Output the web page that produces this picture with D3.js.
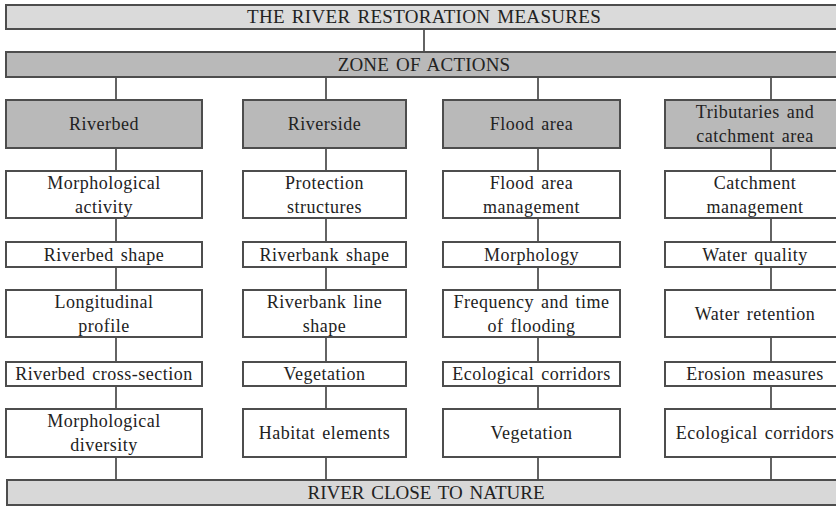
<!DOCTYPE html>
<html>
<head>
<meta charset="utf-8">
<script src="https://cdn.jsdelivr.net/npm/d3@7"></script>
<style>
  html, body { margin: 0; padding: 0; background: #fff; overflow: hidden; }
  svg { display: block; }
</style>
</head>
<body>
<div id="chart"></div>
<script>
// chart content
var title = "THE RIVER RESTORATION MEASURES";
var zoneLabel = "ZONE OF ACTIONS";
var footer = "RIVER CLOSE TO NATURE";
var zones = ["Riverbed", "Riverside", "Flood area", "Tributaries and\ncatchment area"];
var riverbedItems = ["Morphological\nactivity", "Riverbed shape", "Longitudinal\nprofile", "Riverbed cross-section", "Morphological\ndiversity"];
var riversideItems = ["Protection\nstructures", "Riverbank shape", "Riverbank line\nshape", "Vegetation", "Habitat elements"];
var floodItems = ["Flood area\nmanagement", "Morphology", "Frequency and time\nof flooding", "Ecological corridors", "Vegetation"];
var tributaryItems = ["Catchment\nmanagement", "Water quality", "Water retention", "Erosion measures", "Ecological corridors"];
var items = [riverbedItems, riversideItems, floodItems, tributaryItems];

(function () {
    var width = 836, height = 508;

    // layout
    var colLeft = [6, 243, 443, 665],
        colRight = [202, 406, 620, 845],
        colLink = [116, 326, 538, 771];
    var rowTop = [171, 242, 290, 362, 409],
        rowBottom = [218, 267, 337, 386, 457];
    var bars = {top: [5, 29], zone: [52, 77], bottom: [480, 505]},
        head = [100, 148];
    var lineH = 24;
    var font = "'Liberation Serif', 'Times New Roman', Times, 'DejaVu Serif', serif";

    var stroke = "#4d4d4d";

    var svg = d3.select("#chart").append("svg")
        .attr("width", width)
        .attr("height", height);

    var x = d3.scaleOrdinal().domain(d3.range(zones.length)).range(colLink);

    function box(x0, y0, x1, y1, fill) {
        svg.append("rect")
            .attr("x", x0).attr("y", y0)
            .attr("width", x1 - x0).attr("height", y1 - y0)
            .attr("fill", fill)
            .attr("stroke", stroke)
            .attr("stroke-width", 2);
    }

    function label(txt, cx, cy, size, spacing) {
        var lines = txt.split("\n");
        var t = svg.append("text")
            .attr("text-anchor", "middle")
            .attr("font-family", font)
            .attr("fill", "#222")
            .style("font-family", font)
            .style("font-size", size + "px")
            .style("letter-spacing", spacing + "px")
            .style("word-spacing", "2px");
        lines.forEach(function (l, i) {
            t.append("tspan")
                .attr("x", cx)
                .attr("y", cy + (i - (lines.length - 1) / 2) * lineH)
                .attr("dy", "0.34em")
                .text(l);
        });
    }

    function link(x0, y0, y1) {
        svg.append("line")
            .attr("x1", x0).attr("x2", x0)
            .attr("y1", y0).attr("y2", y1)
            .attr("stroke", "#3d3d3d")
            .attr("stroke-width", 1.6);
    }

    // connectors first, boxes drawn over them
    link(424, bars.top[1], bars.zone[0]);
    zones.forEach(function (z, i) {
        link(x(i), bars.zone[1], head[0]);
        link(x(i), head[1], rowTop[0]);
        for (var r = 0; r < rowTop.length - 1; r++) link(x(i), rowBottom[r], rowTop[r + 1]);
        link(x(i), rowBottom[rowBottom.length - 1], bars.bottom[0]);
    });

    // horizontal bars
    box(6, bars.top[0], 850, bars.top[1], "#dadada");
    label(title, 424, (bars.top[0] + bars.top[1]) / 2, 19, 0.3);
    box(6, bars.zone[0], 850, bars.zone[1], "#b9b9b9");
    label(zoneLabel, 424, (bars.zone[0] + bars.zone[1]) / 2, 19, 0.2);
    box(7, bars.bottom[0], 850, bars.bottom[1], "#d8d8d8");
    label(footer, 426, (bars.bottom[0] + bars.bottom[1]) / 2, 19, 0);

    // zone headers and measure boxes
    zones.forEach(function (z, i) {
        var cx = (colLeft[i] + colRight[i]) / 2;
        box(colLeft[i], head[0], colRight[i], head[1], "#b9b9b9");
        label(z, cx, (head[0] + head[1]) / 2, 18, 0.5);
        items[i].forEach(function (it, r) {
            box(colLeft[i], rowTop[r], colRight[i], rowBottom[r], "#fff");
            label(it, cx, (rowTop[r] + rowBottom[r]) / 2, 18, 0.5);
        });
    });
}());
</script>
</body>
</html>
